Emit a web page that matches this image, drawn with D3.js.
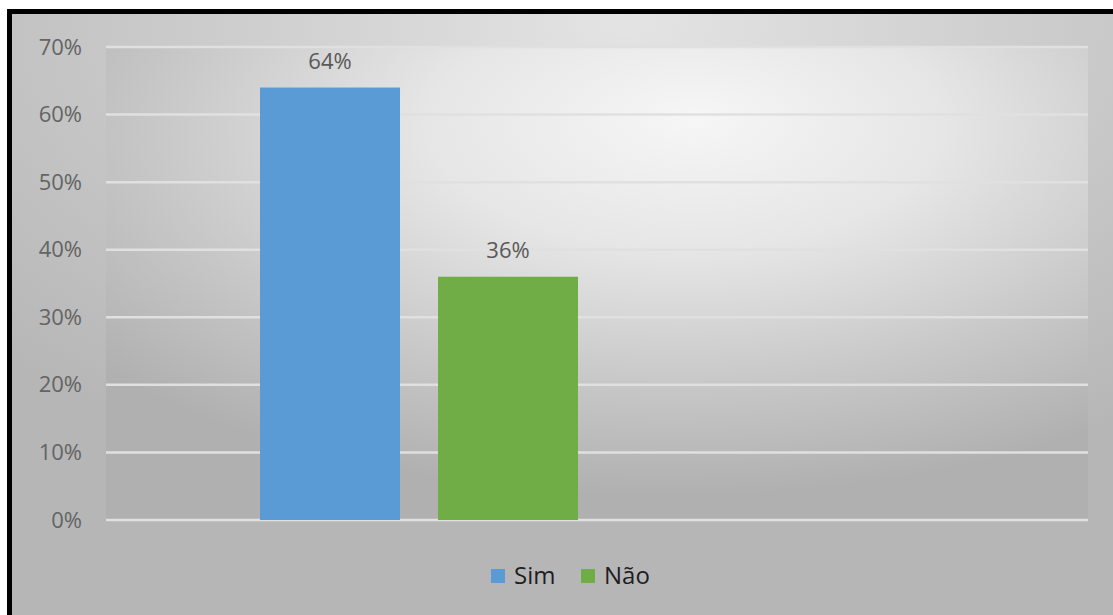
<!DOCTYPE html>
<html>
<head>
<meta charset="utf-8">
<script src="https://cdn.jsdelivr.net/npm/d3@7"></script>
<style>
  html, body { margin: 0; padding: 0; background: #ffffff; }
  svg { display: block; }
  text { font-family: "Open Sans", "Noto Sans", sans-serif; }
</style>
</head>
<body>
<svg id="chart" width="1113" height="615"></svg>
<script>
// Survey answers (share of respondents)
const categories = ["Sim", "Não"];
const values = [0.64, 0.36];
const colors = ["#5B9BD5", "#70AD47"];
const yTicks = [0, 0.1, 0.2, 0.3, 0.4, 0.5, 0.6, 0.7];

const W = 1113, H = 615;
const plot = { left: 106, right: 1088, top: 47, bottom: 520 };

const svg = d3.select("#chart");
const defs = svg.append("defs");

// Soft gray backgrounds: outer chart area and inner plot area
const outerGrad = defs.append("radialGradient")
  .attr("id", "outerBg").attr("cx", 0.56).attr("cy", 0.02).attr("r", 0.8)
  .attr("fx", 0.56).attr("fy", 0.02);
outerGrad.append("stop").attr("offset", 0).attr("stop-color", "#e4e4e4");
outerGrad.append("stop").attr("offset", 0.5).attr("stop-color", "#cbcbcb");
outerGrad.append("stop").attr("offset", 1).attr("stop-color", "#b6b6b6");

const plotGrad = defs.append("radialGradient")
  .attr("id", "plotBg").attr("cx", 0.57).attr("cy", 0.2).attr("r", 0.75)
  .attr("fx", 0.6).attr("fy", 0.15);
plotGrad.append("stop").attr("offset", 0).attr("stop-color", "#f6f6f6");
plotGrad.append("stop").attr("offset", 0.35).attr("stop-color", "#e6e6e6");
plotGrad.append("stop").attr("offset", 0.7).attr("stop-color", "#c8c8c8");
plotGrad.append("stop").attr("offset", 1).attr("stop-color", "#b0b0b0");

svg.append("rect").attr("x", 9).attr("y", 11).attr("width", W - 9).attr("height", H - 11)
  .attr("fill", "url(#outerBg)");

svg.append("rect")
  .attr("x", plot.left).attr("y", plot.top)
  .attr("width", plot.right - plot.left).attr("height", plot.bottom - plot.top)
  .attr("fill", "url(#plotBg)");

// Scales
const y = d3.scaleLinear().domain([0, 0.7]).range([plot.bottom, plot.top]);
const x = d3.scaleBand().domain(categories).range([260, 578]).paddingInner(0.2135).paddingOuter(0);

// Gridlines
svg.append("g").selectAll("line").data(yTicks).join("line")
  .attr("x1", plot.left).attr("x2", plot.right)
  .attr("y1", d => y(d)).attr("y2", d => y(d))
  .attr("stroke", "#e0e0e0").attr("stroke-width", 2.5);

// Y axis labels
const yAxis = d3.axisLeft(y).tickValues(yTicks).tickFormat(d3.format(".0%")).tickSize(0).tickPadding(0);
const gy = svg.append("g").attr("transform", "translate(82,0)").call(yAxis);
gy.select(".domain").remove();
gy.selectAll("text")
  .attr("font-family", "\"Open Sans\", \"Noto Sans\", sans-serif")
  .attr("font-size", 22).attr("fill", "#646464");

// Bars
svg.append("g").selectAll("rect").data(values).join("rect")
  .attr("x", (d, i) => x(categories[i]))
  .attr("y", d => y(d))
  .attr("width", x.bandwidth())
  .attr("height", d => y(0) - y(d))
  .attr("fill", (d, i) => colors[i]);

// Value labels
svg.append("g").selectAll("text").data(values).join("text")
  .attr("x", (d, i) => x(categories[i]) + x.bandwidth() / 2)
  .attr("y", d => y(d) - 19)
  .attr("text-anchor", "middle")
  .attr("font-size", 22).attr("fill", "#595959")
  .text(d => d3.format(".0%")(d));

// Legend
const legendX = [491, 581];
const legend = svg.append("g");
categories.forEach((c, i) => {
  legend.append("rect").attr("x", legendX[i]).attr("y", 569).attr("width", 14).attr("height", 14)
    .attr("fill", colors[i]);
  legend.append("text").attr("x", legendX[i] + 23).attr("y", 584)
    .attr("font-size", 24).attr("fill", "#1e1e1e").text(c);
});

// Frame
svg.append("path")
  .attr("d", `M9.5,${H} V11.5 H${W}`)
  .attr("fill", "none").attr("stroke", "#000").attr("stroke-width", 5);
</script>
</body>
</html>
